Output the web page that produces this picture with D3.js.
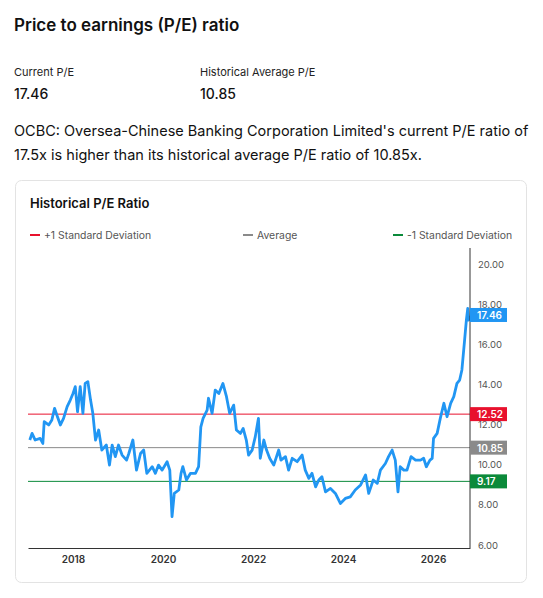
<!DOCTYPE html>
<html>
<head>
<meta charset="utf-8">
<script src="https://cdn.jsdelivr.net/npm/d3@7"></script>
<style>
  body { margin: 0; background: #fff; font-family: Inter, "Noto Sans", sans-serif; }
</style>
</head>
<body>
<svg id="chart" width="543" height="598"></svg>
<script>
'use strict';

// P/E series (decimal year, ratio)
var years = [2017.04,2017.09,2017.16,2017.27,2017.33,2017.36,2017.46,2017.53,2017.59,2017.64,2017.72,2017.79,2017.87,2017.94,2018.00,2018.05,2018.10,2018.16,2018.22,2018.27,2018.33,2018.39,2018.44,2018.50,2018.57,2018.64,2018.74,2018.81,2018.87,2018.94,2019.01,2019.09,2019.19,2019.24,2019.33,2019.41,2019.50,2019.57,2019.64,2019.76,2019.83,2019.90,2019.98,2020.09,2020.15,2020.20,2020.25,2020.35,2020.40,2020.44,2020.52,2020.61,2020.72,2020.79,2020.84,2020.89,2020.98,2021.01,2021.09,2021.16,2021.24,2021.33,2021.41,2021.48,2021.57,2021.63,2021.72,2021.78,2021.85,2021.90,2021.98,2022.05,2022.12,2022.16,2022.24,2022.30,2022.37,2022.46,2022.57,2022.62,2022.72,2022.79,2022.87,2022.98,2023.09,2023.16,2023.24,2023.31,2023.39,2023.46,2023.53,2023.61,2023.72,2023.83,2023.94,2024.05,2024.16,2024.27,2024.39,2024.50,2024.57,2024.67,2024.76,2024.83,2024.94,2025.01,2025.09,2025.16,2025.22,2025.27,2025.35,2025.42,2025.51,2025.61,2025.72,2025.79,2025.85,2025.93,2025.98,2026.01,2026.09,2026.16,2026.24,2026.31,2026.39,2026.46,2026.53,2026.59,2026.64,2026.70,2026.74,2026.77,2026.79,2026.83];
var peValues = [11.23,11.56,11.23,11.31,11.06,12.14,11.98,12.23,12.81,12.48,11.98,12.31,12.89,13.22,13.55,13.89,12.64,13.89,12.56,14.05,14.14,13.22,12.56,11.23,11.73,10.73,10.98,9.98,10.98,10.40,10.98,10.48,10.23,10.56,11.23,9.73,10.56,10.73,9.57,9.90,9.57,9.98,9.73,10.15,9.73,7.41,8.57,8.74,9.57,9.90,9.24,9.57,9.57,9.90,11.89,12.31,12.72,13.31,12.56,13.72,13.55,14.05,13.39,12.56,12.97,11.73,11.56,11.81,11.23,10.48,10.73,11.40,12.31,10.32,11.23,10.73,10.32,9.98,10.73,10.23,10.40,9.73,10.32,10.15,10.48,9.73,9.32,9.57,8.90,9.24,9.40,8.65,8.82,8.57,8.07,8.32,8.40,8.74,8.99,9.49,8.57,9.24,9.07,9.73,10.06,10.40,10.73,10.23,8.65,9.90,9.73,9.73,10.40,10.23,10.23,10.32,9.90,10.23,10.32,11.31,11.56,12.31,13.06,12.39,13.06,13.39,14.05,14.22,14.72,16.21,17.21,17.79,17.21,17.41];

var xTicks = [2018, 2020, 2022, 2024, 2026];
var yTicks = [6, 8, 10, 12, 14, 16, 18, 20];

var refLabels = ['+1 Standard Deviation', 'Average', '-1 Standard Deviation'];
var refValues = [12.52, 10.85, 9.17];
var refColors = ['#e8112d', '#8a8a8a', '#0b8a3a'];
var lastValue = 17.46;

var svg = d3.select('#chart');

// header texts
svg.append('text').attr('x', 14).attr('y', 31).attr('font-size', 17).attr('font-weight', 600)
  .attr('fill', '#111').text('Price to earnings (P/E) ratio');
svg.append('text').attr('x', 14).attr('y', 76).attr('font-size', 11).attr('fill', '#222').text('Current P/E');
svg.append('text').attr('x', 14).attr('y', 99).attr('font-size', 14).attr('font-weight', 500).attr('fill', '#111').text('17.46');
svg.append('text').attr('x', 200).attr('y', 76).attr('font-size', 11).attr('fill', '#222').text('Historical Average P/E');
svg.append('text').attr('x', 200).attr('y', 99).attr('font-size', 14).attr('font-weight', 500).attr('fill', '#111').text('10.85');
svg.append('text').attr('x', 14).attr('y', 136).attr('font-size', 14.5).attr('fill', '#111')
  .text("OCBC: Oversea-Chinese Banking Corporation Limited's current P/E ratio of");
svg.append('text').attr('x', 14).attr('y', 160).attr('font-size', 14.5).attr('fill', '#111')
  .text('17.5x is higher than its historical average P/E ratio of 10.85x.');

// card
svg.append('rect').attr('x', 15.5).attr('y', 180.5).attr('width', 511).attr('height', 402)
  .attr('rx', 6).attr('fill', '#fff').attr('stroke', '#e3e3e3');
svg.append('text').attr('x', 30).attr('y', 208).attr('font-size', 13).attr('font-weight', 600)
  .attr('fill', '#111').text('Historical P/E Ratio');

// legend
var legendX = [30, 243, 393];
refLabels.forEach(function (lbl, i) {
  svg.append('line').attr('x1', legendX[i]).attr('x2', legendX[i] + 10)
    .attr('y1', 235).attr('y2', 235).attr('stroke', refColors[i]).attr('stroke-width', 2);
  svg.append('text').attr('x', legendX[i] + 14).attr('y', 238.5).attr('font-size', 10.4)
    .attr('fill', '#555').text(lbl);
});

// scales
var x = d3.scaleLinear().domain([2017.0, 2026.82]).range([28, 470]);
var y = d3.scaleLinear().domain([6, 20]).range([545, 264]);

// reference lines
refValues.forEach(function (v, i) {
  svg.append('line').attr('x1', 28).attr('x2', 470).attr('y1', y(v)).attr('y2', y(v))
    .attr('stroke', refColors[i]).attr('stroke-width', 1);
});

// series line
var pts = years.map(function (t, i) { return [t, peValues[i]]; });
svg.append('path').datum(pts)
  .attr('fill', 'none').attr('stroke', '#2196f3').attr('stroke-width', 2.8)
  .attr('stroke-linejoin', 'round')
  .attr('d', d3.line().x(function (d) { return x(d[0]); }).y(function (d) { return y(d[1]); }));

// axes
var xAxis = svg.append('g').attr('transform', 'translate(0,548)')
  .call(d3.axisBottom(x).tickValues(xTicks).tickFormat(d3.format('d')).tickSize(0).tickPadding(8));
xAxis.select('.domain').attr('stroke', '#333');
xAxis.selectAll('text').attr('font-size', 10).attr('font-weight', 600).attr('fill', '#333')
  .attr('font-family', 'Inter, sans-serif');

var yAxis = svg.append('g').attr('transform', 'translate(470,0)')
  .call(d3.axisRight(y).tickValues(yTicks).tickFormat(d3.format('.2f')).tickSize(0).tickPadding(8));
yAxis.select('.domain').attr('d', 'M0,248V548').attr('stroke', '#333');
yAxis.selectAll('text').attr('font-size', 9.5).attr('fill', '#555').attr('font-family', 'Inter, sans-serif');

// value badges
var badges = refValues.map(function (v, i) { return { v: v, c: refColors[i] }; });
badges.push({ v: lastValue, c: '#2196f3' });
badges.forEach(function (b) {
  var g = svg.append('g').attr('transform', 'translate(470,' + y(b.v) + ')');
  g.append('rect').attr('x', 0).attr('y', -7).attr('width', 37).attr('height', 14).attr('fill', b.c);
  g.append('text').attr('x', 7).attr('y', 4).attr('font-size', 10).attr('font-weight', 600)
    .attr('fill', '#fff').text(b.v.toFixed(2));
});
</script>
</body>
</html>
